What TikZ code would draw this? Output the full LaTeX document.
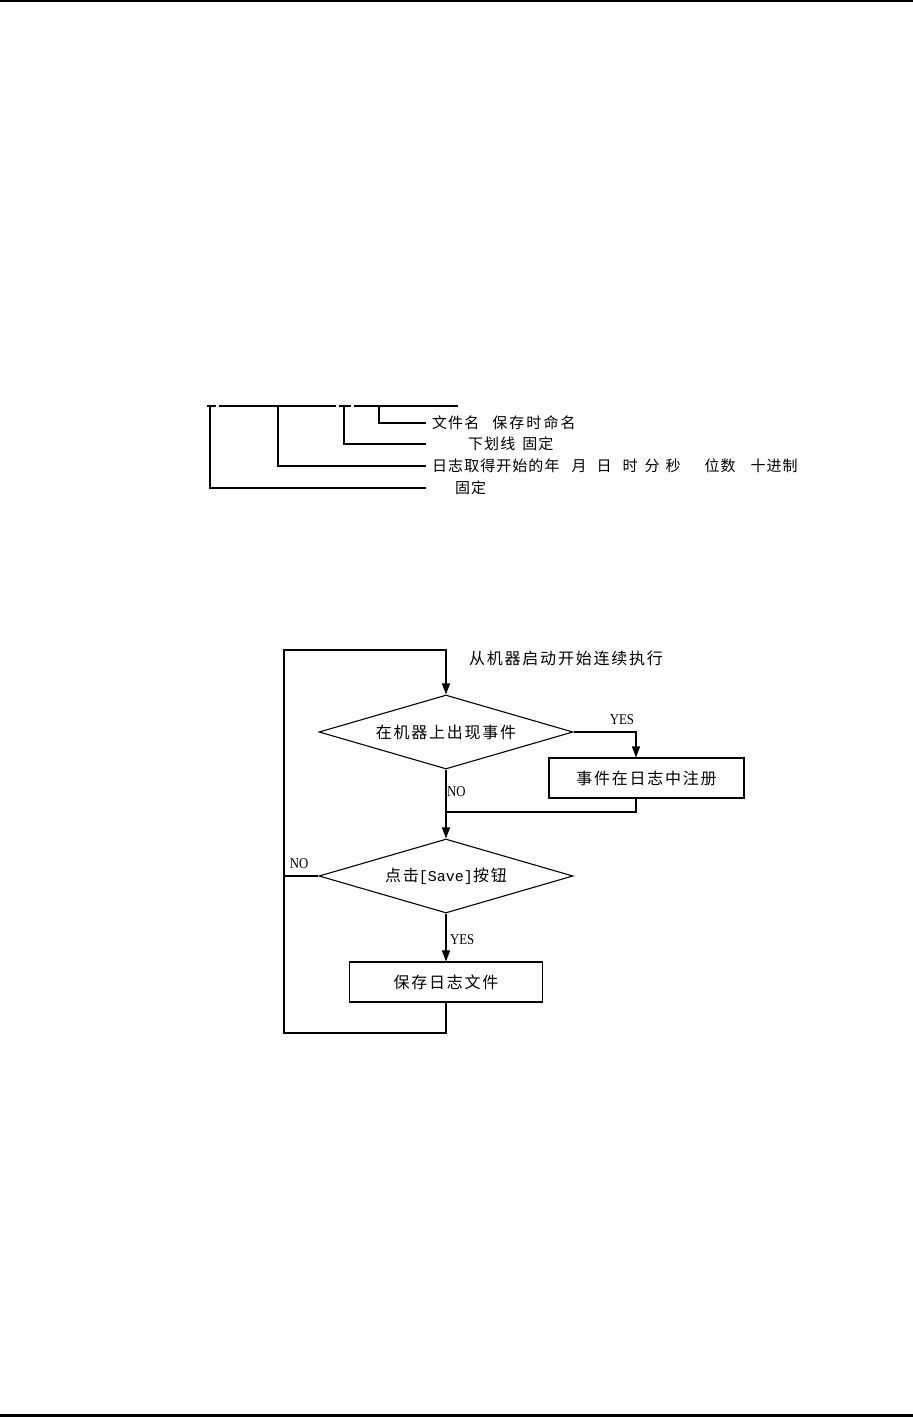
\documentclass[tikz,border=0pt]{standalone}
\usepackage{fontspec}
\usetikzlibrary{shapes.geometric,arrows.meta,calc}
\newfontfamily\cjka[LetterSpace=7]{Noto Sans CJK SC}
\newfontfamily\cjkc[LetterSpace=14]{Noto Sans CJK SC}
\newfontfamily\cjkb[LetterSpace=11]{Noto Sans CJK SC}
\newfontfamily\latf[FakeStretch=0.85]{Liberation Serif}
\newfontfamily\monof{Liberation Mono}
\begin{document}
\begin{tikzpicture}[x=1pt,y=-1pt,
  ln/.style={line width=1.1pt, black},
  arr/.style={ln, -{Triangle[length=11pt,width=8pt]}},
  lbl/.style={font=\cjka\fontsize{15pt}{15pt}\selectfont, anchor=west, inner sep=0pt},
  ftxt/.style={font=\cjkb\fontsize{16pt}{16pt}\selectfont},
  dec/.style={diamond, draw, ln, ftxt, minimum width=254pt, minimum height=74pt, aspect=3.432, inner sep=0pt},
  proc/.style={rectangle, draw, ln, ftxt, minimum height=40pt, inner sep=0pt},
  yn/.style={font=\latf\fontsize{15pt}{15pt}\selectfont, inner sep=0pt}
]
\useasboundingbox (0,0) rectangle (913,1417);
\fill[white] (0,0) rectangle (913,1417);
% page rules
\draw[line width=2pt] (0,1) -- (913,1);
\draw[line width=2.5pt] (0,1415.5) -- (913,1415.5);

% ---- file name structure ----
\node[lbl] (t1) at (432,423) {文件名\hspace{13pt}{\cjkc\fontsize{15pt}{15pt}\selectfont 保存时命名}};
\node[lbl] (t2) at (468,444) {下划线\hspace{7pt}固定};
\node[lbl] (t3) at (432,466) {日志取得开始的年\hspace{12pt}月\hspace{10pt}日\hspace{11pt}时\hspace{7pt}分\hspace{6pt}秒\hspace{24pt}位数\hspace{15pt}十进制};
\node[lbl] (t4) at (455,488) {固定};
\coordinate (tk) at (426,406);
\coordinate (v1) at (379,406);
\coordinate (v2) at (344,406);
\coordinate (v3) at (278,406);
\coordinate (v4) at (210,406);
\draw[ln] (207,406) -- (216,406);
\draw[ln] (219,406) -- (336,406);
\draw[ln] (339,406) -- (351,406);
\draw[ln] (354,406) -- (458,406);
\draw[ln] (v1) |- (t1.west -| tk);
\draw[ln] (v2) |- (t2.west -| tk);
\draw[ln] (v3) |- (t3.west -| tk);
\draw[ln] (v4) |- (t4.west -| tk);

% ---- flowchart ----
\node[anchor=west, inner sep=0pt, ftxt] (st) at (469,658) {从机器启动开始连续执行};
\node[dec] (d1) at (446,732) {在机器上出现事件};
\node[proc, minimum width=195pt] (b1) at (646.5,778) {事件在日志中注册};
\node[dec] (d2) at (446,876) {点击{\monof\fontsize{15pt}{15pt}\selectfont[Save]}按钮};
\node[proc, minimum width=193pt] (b2) at (446,982) {保存日志文件};

\coordinate (lt) at (284,650);
\coordinate (lb) at (284,1033);
\coordinate (join) at (446,812);

\draw[arr] (b2.south) |- (lb) -- (lt) -| (d1.north);
\draw[arr] (d1.east) -| ([xshift=-10.5pt]b1.north);
\draw[ln] ([xshift=-10.5pt]b1.south) |- (join);
\draw[arr] (d1.south) -- (d2.north);
\draw[ln] (d2.west) -- (d2.west -| lt);
\draw[arr] (d2.south) -- (b2.north);

\node[yn] (y1) at (622,720) {YES};
\node[yn, anchor=west] (n1) at (447,792) {NO};
\node[yn] (n2) at (299,864) {NO};
\node[yn, anchor=west] (y2) at (450,940) {YES};
\end{tikzpicture}
\end{document}
